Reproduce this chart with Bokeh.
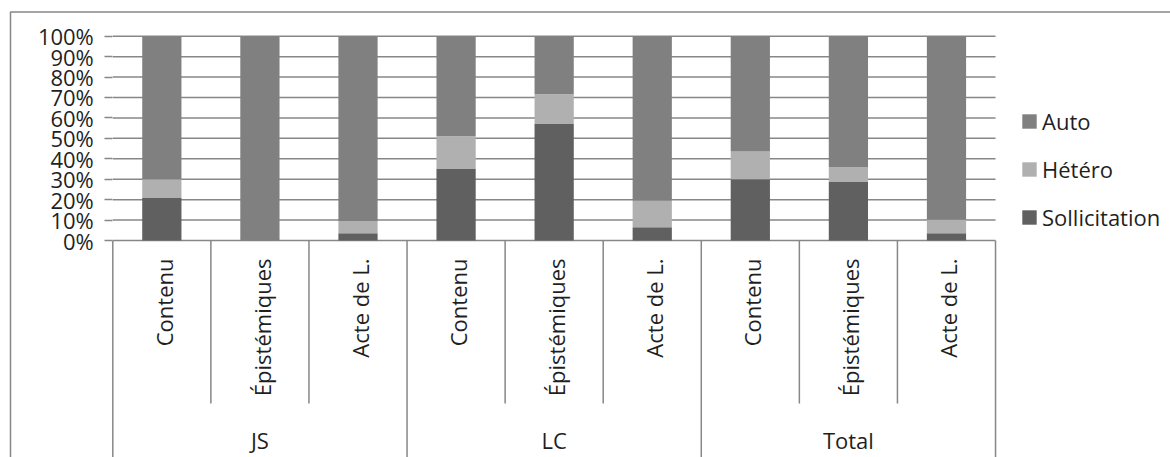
import math
from bokeh.plotting import figure
from bokeh.models import (ColumnDataSource, Range1d, LinearAxis, FixedTicker,
                          Legend, LegendItem)
from bokeh.core.properties import value
from bokeh.embed import file_html
from bokeh.resources import INLINE

# ---------------- data ----------------
groups = ["JS", "LC", "Total"]
subcategories = ["Contenu", "Épistémiques", "Acte de L."]
series_names = ["Sollicitation", "Hétéro", "Auto"]
sollicitation = [21.0, 0.0, 3.5, 35.0, 57.0, 6.5, 30.0, 28.6, 3.6]
hetero = [9.0, 0.0, 6.0, 16.0, 14.6, 13.0, 13.6, 7.4, 6.5]
auto = [70.0, 100.0, 90.5, 49.0, 28.4, 80.5, 56.4, 64.0, 89.9]
y_ticks = [0, 10, 20, 30, 40, 50, 60, 70, 80, 90, 100]
y_tick_labels = ["0%", "10%", "20%", "30%", "40%", "50%", "60%", "70%", "80%", "90%", "100%"]

# ---------------- styles ----------------
colors = ["#606060", "#b0b0b0", "#808080"]
line_col = "#878787"
text_col = "#1f1f1f"
FONT = "Open Sans"
FS = "22px"

# ---------------- geometry (pixels) ----------------
W, H = 1170, 457
X0_PX = 112.3      # left edge of first category (figure px)
UNIT_X = 98.08     # px per category
Y0_PX = 240.0      # 0% line (figure px from top)
UNIT_Y = 2.043     # px per percent

def dx(px):
    return px / UNIT_X

def dy(px):
    return px / UNIT_Y

n = len(groups) * len(subcategories)
x_centers = [i + 0.5 for i in range(n)]
labels_sub = [s for g in groups for s in subcategories]

src = ColumnDataSource(dict(x=x_centers, Sollicitation=sollicitation,
                            Hétéro=hetero, Auto=auto))

p = figure(width=W, height=H, output_backend="svg", toolbar_location=None,
           x_axis_type=None, y_axis_type=None,
           x_range=Range1d(-dx(X0_PX), dx(W - X0_PX)),
           y_range=Range1d(-dy(H - Y0_PX), dy(Y0_PX)),
           min_border=0, min_border_left=0, min_border_right=0,
           min_border_top=0, min_border_bottom=0)
p.outline_line_color = None
p.background_fill_color = "white"
p.border_fill_color = "white"

# outer chart-area border (top and left edges)
bx = -dx(X0_PX - 10)
by = dy(Y0_PX - 11.5)
p.line(x=[bx, bx, n + 5], y=[-200, by, by], line_color=line_col, line_width=1.5)

# horizontal gridlines
p.segment(x0=[0] * len(y_ticks), x1=[n] * len(y_ticks), y0=y_ticks, y1=y_ticks,
          line_color=line_col, line_width=1.5)

# stacked bars
rends = p.vbar_stack(series_names, x="x", width=0.4, color=colors,
                     line_color=None, source=src)

# category separators below the axis
sep_x, sep_y1 = [], []
for i in range(n + 1):
    sep_x.append(i)
    if i % len(subcategories) == 0:
        sep_y1.append(-200)
    else:
        sep_y1.append(-dy(403 - 240))
p.segment(x0=sep_x, x1=sep_x, y0=[0] * len(sep_x), y1=sep_y1,
          line_color=line_col, line_width=1.5)

# sub-category labels (rotated, reading bottom-to-top)
p.text(x=[c + dx(2) for c in x_centers], y=[-dy(258 - 240)] * n, text=labels_sub,
       angle=math.pi / 2, text_align="right", text_baseline="middle",
       text_font=value(FONT), text_font_size=FS, text_color=text_col)

# group labels
g_centers = [k * len(subcategories) + len(subcategories) / 2 for k in range(len(groups))]
p.text(x=g_centers, y=[-dy(439.5 - 240)] * len(groups), text=groups,
       text_align="center", text_baseline="middle",
       text_font=value(FONT), text_font_size=FS, text_color=text_col)

# y axis
yax = LinearAxis(fixed_location=0, ticker=FixedTicker(ticks=y_ticks),
                 major_label_overrides={t: l for t, l in zip(y_ticks, y_tick_labels)})
yax.axis_line_color = None
yax.major_tick_in = 0
yax.major_tick_out = 8
yax.major_tick_line_color = line_col
yax.major_tick_line_width = 1.5
yax.minor_tick_line_color = None
yax.major_label_standoff = 11
yax.major_label_text_font = FONT
yax.major_label_text_font_size = FS
yax.major_label_text_color = text_col
p.add_layout(yax, "left")

# legend
items = [LegendItem(label=series_names[k], renderers=[rends[k]]) for k in (2, 1, 0)]
legend = Legend(items=items, location=(1020, 225), orientation="vertical",
                glyph_width=18, glyph_height=18, label_standoff=4,
                label_height=30, spacing=18, padding=0, margin=0,
                border_line_color=None, background_fill_alpha=0,
                label_text_font=FONT, label_text_font_size=FS,
                label_text_color=text_col)
p.add_layout(legend)

open("out.html", "w").write(file_html(p, INLINE))
